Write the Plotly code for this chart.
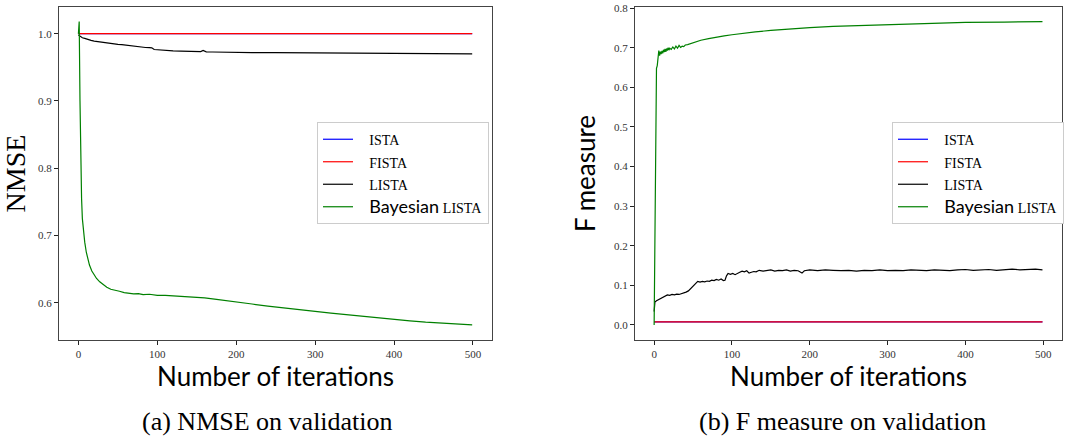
import plotly.graph_objects as go

# ---------------- data ----------------
# NMSE on validation
nmse_ista_x = [0, 499]
nmse_ista_y = [1.0, 1.0]
nmse_fista_x = [0, 499]
nmse_fista_y = [1.0, 1.0]

nmse_lista_x = [0, 2, 5, 8, 12, 16, 20, 25, 30, 35, 40, 45, 50, 55, 60, 65, 70, 75, 80, 85, 90, 93, 96,
                100, 110, 120, 130, 140, 150, 155, 158, 162, 170, 180, 200, 220, 250, 280, 300, 330,
                360, 400, 430, 460, 499]
nmse_lista_y = [0.998, 0.996, 0.994, 0.993, 0.991, 0.990, 0.989, 0.988, 0.987, 0.9865, 0.986, 0.985,
                0.984, 0.9838, 0.983, 0.9822, 0.981, 0.9807, 0.980, 0.9795, 0.9792, 0.979, 0.9765,
                0.976, 0.975, 0.9745, 0.974, 0.9737, 0.9735, 0.9733, 0.975, 0.973, 0.9728, 0.9725,
                0.9722, 0.972, 0.9718, 0.9715, 0.9713, 0.9712, 0.971, 0.9708, 0.9706, 0.9703, 0.970]

nmse_blista_x = [0, 1, 2, 3, 4, 5, 6, 7, 8, 10, 12, 14, 17, 20, 23, 27, 31, 36, 41, 46, 52, 58, 64,
                 70, 76, 82, 90, 100, 110, 120, 130, 140, 150, 160, 175, 190, 200, 220, 240, 260,
                 280, 300, 320, 340, 360, 380, 400, 420, 440, 460, 480, 499]
nmse_blista_y = [1.0, 1.018, 0.90, 0.80, 0.755, 0.725, 0.71, 0.70, 0.69, 0.675, 0.664, 0.656, 0.647,
                 0.641, 0.636, 0.631, 0.627, 0.623, 0.620, 0.619, 0.617, 0.615, 0.614, 0.613, 0.6135,
                 0.612, 0.6125, 0.611, 0.6108, 0.6102, 0.6095, 0.609, 0.608, 0.607, 0.605, 0.603,
                 0.601, 0.598, 0.595, 0.592, 0.5895, 0.587, 0.5845, 0.582, 0.580, 0.5775, 0.575,
                 0.573, 0.571, 0.5695, 0.568, 0.567]

# F measure on validation
f_ista_x = [0, 499]
f_ista_y = [0.0076, 0.0076]
f_fista_x = [0, 499]
f_fista_y = [0.0076, 0.0076]

f_lista_x = [0, 1, 3, 5, 8, 11, 14, 17, 20, 23, 26, 29, 32, 35, 38, 41, 44, 47, 50, 53, 56, 59, 62,
             65, 68, 71, 74, 77, 80, 83, 86, 89, 91, 93, 95, 98, 101, 104, 107, 110, 113, 116, 119,
             122, 125, 128, 131, 135, 140, 145, 150, 155, 160, 165, 170, 175, 180, 185, 188, 190,
             193, 197, 200, 210, 220, 230, 240, 250, 260, 270, 280, 290, 300, 310, 320, 330, 340,
             350, 360, 370, 380, 390, 400, 410, 420, 430, 440, 450, 460, 470, 480, 490, 499]
f_lista_y = [0.034, 0.058, 0.061, 0.063, 0.066, 0.070, 0.074, 0.076, 0.075, 0.077, 0.076, 0.078,
             0.077, 0.079, 0.080, 0.083, 0.086, 0.092, 0.099, 0.104, 0.110, 0.108, 0.110, 0.109,
             0.111, 0.110, 0.113, 0.112, 0.115, 0.113, 0.116, 0.112, 0.113, 0.124, 0.130, 0.128,
             0.130, 0.127, 0.131, 0.133, 0.136, 0.134, 0.137, 0.131, 0.133, 0.135, 0.134, 0.138,
             0.136, 0.137, 0.139, 0.136, 0.138, 0.137, 0.139, 0.136, 0.138, 0.137, 0.133, 0.131,
             0.137, 0.138, 0.139, 0.137, 0.139, 0.138, 0.137, 0.138, 0.136, 0.138, 0.137, 0.139,
             0.137, 0.138, 0.137, 0.139, 0.138, 0.137, 0.139, 0.138, 0.137, 0.139, 0.140, 0.138,
             0.139, 0.140, 0.138, 0.139, 0.141, 0.139, 0.140, 0.141, 0.139]

f_blista_x = [0, 1, 2, 3, 4, 5, 6, 7, 8, 9, 10, 11, 12, 13, 14, 15, 16, 17, 18, 19, 20, 22, 24, 26,
              28, 30, 32, 34, 36, 38, 40, 43, 46, 50, 55, 60, 70, 80, 90, 100, 115, 130, 150, 175,
              200, 230, 260, 300, 350, 400, 450, 499]
f_blista_y = [0.0, 0.30, 0.55, 0.648, 0.655, 0.672, 0.693, 0.680, 0.690, 0.684, 0.692, 0.686, 0.695,
              0.689, 0.697, 0.690, 0.698, 0.693, 0.700, 0.694, 0.699, 0.696, 0.702, 0.697, 0.704,
              0.699, 0.706, 0.701, 0.704, 0.703, 0.707, 0.708, 0.710, 0.713, 0.716, 0.719, 0.723,
              0.727, 0.730, 0.733, 0.737, 0.740, 0.744, 0.748, 0.751, 0.754, 0.756, 0.759, 0.762,
              0.764, 0.765, 0.766]

x_ticks = [0, 100, 200, 300, 400, 500]
nmse_ticks = [0.6, 0.7, 0.8, 0.9, 1.0]
f_ticks = [0.0, 0.1, 0.2, 0.3, 0.4, 0.5, 0.6, 0.7, 0.8]

# ---------------- style ----------------
W, H = 1081, 437
SERIF = "Liberation Serif, DejaVu Serif, serif"
SANS = "Lato, DejaVu Sans, sans-serif"
BLUE, RED, BLACK, GREEN = "#0000ff", "#ff0000", "#000000", "#008000"
LW = 1.2
PAD = "&nbsp;&nbsp;&nbsp;"


def sc(t):
    return f'<span style="font-family:{SERIF};font-size:14px">{t}</span>'


names = [PAD + sc("ISTA"), PAD + sc("FISTA"), PAD + sc("LISTA"),
         PAD + f'<span style="font-family:{SANS};font-size:18px">Bayesian</span> ' + sc("LISTA")]
colors = [BLUE, RED, BLACK, GREEN]

fig = go.Figure()
left = [(nmse_ista_x, nmse_ista_y), (nmse_fista_x, nmse_fista_y),
        (nmse_lista_x, nmse_lista_y), (nmse_blista_x, nmse_blista_y)]
right = [(f_ista_x, f_ista_y), (f_fista_x, f_fista_y),
         (f_lista_x, f_lista_y), (f_blista_x, f_blista_y)]
for (x, y), n, c in zip(left, names, colors):
    fig.add_trace(go.Scatter(x=x, y=y, mode="lines", name=n, line=dict(color=c, width=LW),
                             xaxis="x", yaxis="y", legend="legend"))
for (x, y), n, c in zip(right, names, colors):
    fig.add_trace(go.Scatter(x=x, y=y, mode="lines", name=n, line=dict(color=c, width=LW),
                             xaxis="x2", yaxis="y2", legend="legend2"))

yd = [(H - 340) / H, (H - 7) / H]
axis_common = dict(showline=True, mirror=True, linecolor="#444", linewidth=1, ticks="outside",
                   ticklen=4, tickcolor="#222", showgrid=False, zeroline=False, automargin=False,
                   tickfont=dict(family=SERIF, size=11, color="#333"))

fig.update_layout(
    template="none",
    width=W, height=H,
    margin=dict(l=0, r=0, t=0, b=0),
    paper_bgcolor="white", plot_bgcolor="white",
    xaxis=dict(domain=[59 / W, 492 / W], range=[-24.6, 524.1], tickvals=x_ticks,
               title=dict(text="Number of iterations", font=dict(family=SANS, size=26, color="black"),
                          standoff=4),
               anchor="y", **axis_common),
    yaxis=dict(domain=yd, range=[0.5445, 1.0397], tickvals=nmse_ticks,
               ticktext=[f"{v:.1f}" for v in nmse_ticks],
               title=dict(text="NMSE", font=dict(family=SERIF, size=28, color="black"), standoff=8),
               anchor="x", **axis_common),
    xaxis2=dict(domain=[635 / W, 1062 / W], range=[-24.6, 524.1], tickvals=x_ticks,
                title=dict(text="Number of iterations", font=dict(family=SANS, size=26, color="black"),
                           standoff=4),
                anchor="y2", **axis_common),
    yaxis2=dict(domain=yd, range=[-0.038, 0.803], tickvals=f_ticks,
                ticktext=[f"{v:.1f}" for v in f_ticks],
                title=dict(text="F measure", font=dict(family=SANS, size=26, color="black"), standoff=10),
                anchor="x2", **axis_common),
    legend=dict(x=317 / W, y=1 - 122 / H, xanchor="left", yanchor="top", bgcolor="white",
                bordercolor="#cccccc", borderwidth=1, font=dict(family=SERIF, size=15, color="black"),
                tracegroupgap=0),
    legend2=dict(x=892 / W, y=1 - 122 / H, xanchor="left", yanchor="top", bgcolor="white",
                 bordercolor="#cccccc", borderwidth=1, font=dict(family=SERIF, size=15, color="black"),
                 tracegroupgap=0),
    showlegend=True,
    annotations=[
        dict(text="(a) NMSE on validation", x=267 / W, y=(H - 421) / H, xref="paper", yref="paper",
             showarrow=False, font=dict(family=SERIF, size=26, color="black"), xanchor="center",
             yanchor="middle"),
        dict(text="(b) F measure on validation", x=842 / W, y=(H - 421) / H, xref="paper",
             yref="paper", showarrow=False, font=dict(family=SERIF, size=26, color="black"),
             xanchor="center", yanchor="middle"),
    ],
)

fig.write_html("out.html")
